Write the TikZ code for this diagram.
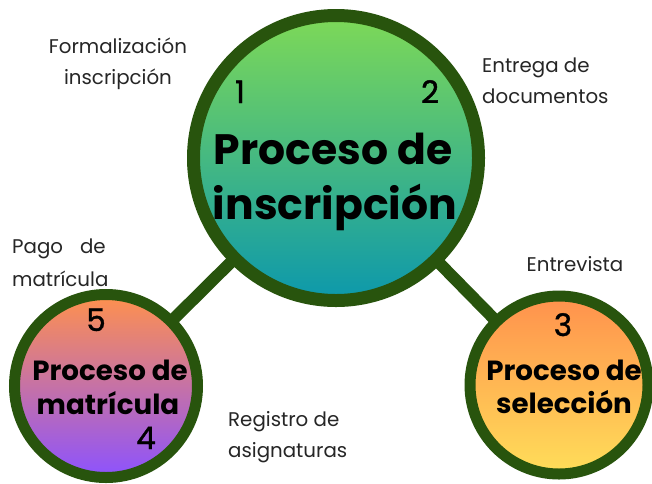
\documentclass[tikz,border=0pt]{standalone}
\usepackage{fontspec}
\setmainfont{Poppins}
\newfontfamily\numfont{Poppins}[BoldFont=Poppins, BoldFeatures={FakeBold=1.3}]
\definecolor{ring}{RGB}{40,84,13}
\definecolor{gA}{RGB}{126,217,87}
\definecolor{gB}{RGB}{12,152,172}
\definecolor{orA}{RGB}{255,145,77}
\definecolor{puB}{RGB}{140,82,255}
\definecolor{yeB}{RGB}{255,222,89}
\tikzset{
  bubble/.style={circle, draw=ring, inner sep=0pt, outer sep=0pt},
  link/.style={draw=ring, line width=12pt},
  lbl/.style={anchor=base, inner sep=0pt, font=\fontsize{19.8}{23}\selectfont, text=black!85},
  num/.style={anchor=base, inner sep=0pt, font=\fontsize{31}{36}\selectfont\numfont\bfseries},
  bigtitle/.style={anchor=base, inner sep=0pt, font=\fontsize{42.5}{50}\selectfont\bfseries},
  smalltitle/.style={anchor=base, inner sep=0pt, font=\fontsize{27.7}{32}\selectfont\bfseries},
}
\begin{document}
\begin{tikzpicture}[x=1pt,y=-1pt]
\useasboundingbox[fill=white] (0,0) rectangle (652,483);
% circles (positions)
\coordinate (cbig) at (336,158);
\coordinate (cleft) at (106,386);
\coordinate (cright) at (559,385);
% connectors behind
\draw[link] (cbig) -- (cleft);
\draw[link] (cbig) -- (cright);
\node[bubble, line width=13pt, minimum size=285pt, top color=gA, bottom color=gB] (big) at (cbig) {};
\node[bubble, line width=11pt, minimum size=183pt, top color=orA, bottom color=puB] (left) at (cleft) {};
\node[bubble, line width=11pt, minimum size=178pt, top color=orA, bottom color=yeB] (right) at (cright) {};
% titles
\node[bigtitle] (t1a) at (333,164) {Proceso de};
\node[bigtitle] (t1b) at (335,219) {inscripción};
\node[smalltitle] (t2a) at (110,380) {Proceso de};
\node[smalltitle] (t2b) at (108,414) {matrícula};
\node[smalltitle] (t3a) at (564,380) {Proceso de};
\node[smalltitle] (t3b) at (564,413) {selección};
% numbers
\node[num] (n1) at (240,103) {1};
\node[num] (n2) at (430,103) {2};
\node[num] (n3) at (563,336) {3};
\node[num] (n4) at (146,449) {4};
\node[num] (n5) at (96,331) {5};
% labels
\node[lbl] (l1a) at (118,53) {Formalización};
\node[lbl] (l1b) at (118,84) {inscripción};
\node[lbl, anchor=base west] (l2a) at (482,72) {Entrega de};
\node[lbl, anchor=base west] (l2b) at (482,103) {documentos};
\node[lbl] (l3) at (575,271) {Entrevista};
\node[lbl, anchor=base west] (l4a) at (228,426) {Registro de};
\node[lbl, anchor=base west] (l4b) at (228,457) {asignaturas};
\node[lbl, anchor=base west] (l5a) at (12,253) {Pago\hspace{17pt}de};
\node[lbl, anchor=base west] (l5b) at (12,286) {matrícula};
\end{tikzpicture}
\end{document}
